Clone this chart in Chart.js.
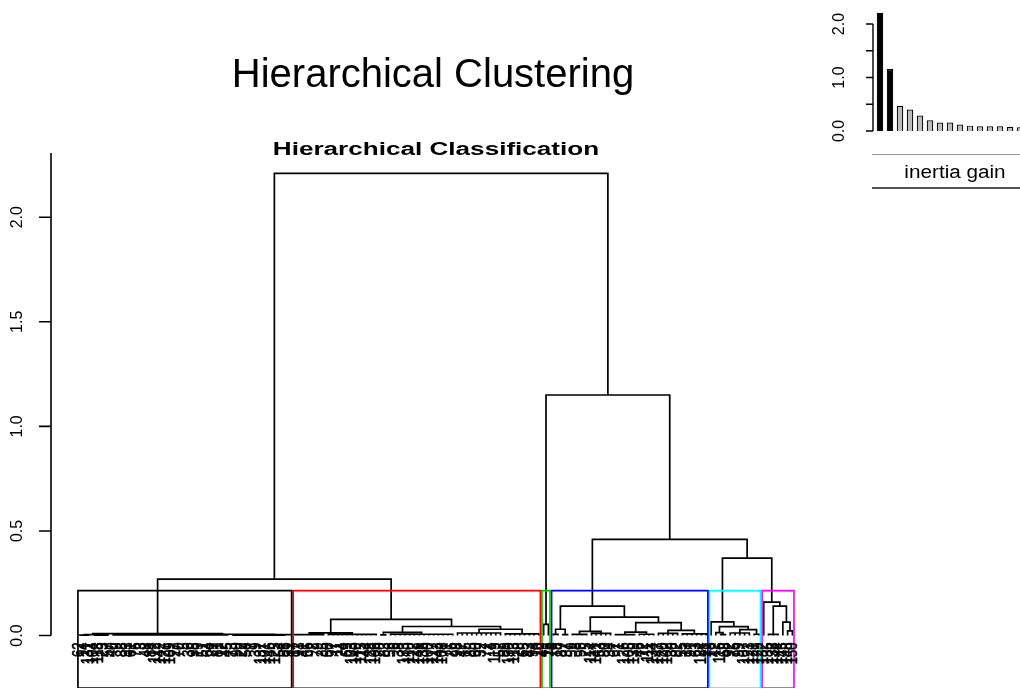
<!DOCTYPE html>
<html>
<head>
<meta charset="utf-8">
<script src="https://cdn.jsdelivr.net/npm/chart.js@4.4.1/dist/chart.umd.min.js"></script>
<style>
  html, body { margin: 0; padding: 0; background: #fff; overflow: hidden; }
  #wrap { position: relative; width: 1020px; height: 689px; overflow: hidden; }
  #main { position: absolute; left: 0; top: 0; }
  #gain { position: absolute; left: 800px; top: 0; }
</style>
</head>
<body>
<div id="wrap">
  <canvas id="main" width="1020" height="689"></canvas>
  <canvas id="gain" width="240" height="200"></canvas>
</div>
<script>
// upper merges of the tree: root, black+red, green+rest, blue+rest, cyan+magenta
const upperHeights = [2.21, 0.27, 1.15, 0.46, 0.37];
// the tree is cut between the 5th and 6th merge
const cutHeight = 0.215;
const clusterColors = ['#000000', '#FF0000', '#00CD00', '#0000FF', '#00FFFF', '#FF00FF'];

// clusters: [height, child, child...], a plain number is a leaf label
const clusterBlack = [0.009,
  [0.004, [0.002, 62, 14, 131], [0.002, 104, 118, 23, 57]],
  [0.006,
    [0.003, 40, 9, 88, 33, 61, 76, 3, 48, 84, 112, 142, 127, 109, 27, 70, 5, 36, 95, 19, 51, 64, 29, 81, 12, 45],
    [0.004, [0.002, 73, 90, 22, 58, 7, 39, 137, 101, 146, 125, 54, 86], 31]]];
const clusterRed = [0.077,
  [0.013, [0.004, 17, 93, 41, 66, 2, 79, 35], [0.005, 50, 97, 11, 24, 69, 103, 140, 115, 44, 128, 106]],
  [0.043,
    [0.015, [0.003, 20, 83], [0.006, 56, 6, 38, 133, 110, 122, 149, 136, 100, 117, 143, 108, 71, 26]],
    [0.03, [0.012, 98, 47, 15, 85, 60, 32, 77, 4, 119, 52], [0.008, 89, 130, 113, 28, 65, 43, 94, 10]]]];
const clusterGreen = [0.053, 49, 16];
const clusterBlue = [0.14,
  [0.03, [0.005, 74, 18], [0.004, 87, 37]],
  [0.088,
    [0.02, [0.005, 59, 8, 96, 25], [0.01, 114, 141, 53, 80, 34]],
    [0.062,
      [0.016, [0.004, 67, 1, 126, 105, 139], [0.006, 46, 72, 111, 134]],
      [0.025, [0.01, 147, 120, 102, 30, 82], [0.008, 55, 13, 91, 63, 124, 21]]]]];
const clusterCyan = [0.065, 78,
  [0.042, [0.014, 42, [0.004, 116, 68]], [0.028, [0.012, 92, 75, 99, 107, 123], [0.006, 121, 129]]]];
const clusterMagenta = [0.16, 132,
  [0.14, [0.005, 135, 138, 144], [0.064, 145, [0.022, 148, 150]]]];

// inertia gain barplot (inset)
const inertiaGain = [2.21, 1.16, 0.47, 0.40, 0.29, 0.20, 0.16, 0.16, 0.12, 0.10, 0.09, 0.09, 0.09, 0.08, 0.07, 0.07];

const yTicks = [0, 0.5, 1.0, 1.5, 2.0];
const yTickLabels = ['0.0', '0.5', '1.0', '1.5', '2.0'];
const gainTicks = [0, 0.5, 1.0, 1.5, 2.0];
const gainTickLabels = ['0.0', '', '1.0', '', '2.0'];

const FONT = "'Liberation Sans', Arial, Helvetica, sans-serif";

// ---- build the tree -------------------------------------------------
const clusters = [clusterBlack, clusterRed, clusterGreen, clusterBlue, clusterCyan, clusterMagenta];
const tree = [upperHeights[0],
  [upperHeights[1], clusterBlack, clusterRed],
  [upperHeights[2], clusterGreen,
    [upperHeights[3], clusterBlue, [upperHeights[4], clusterCyan, clusterMagenta]]]];

const leafLabels = [];
const segments = [];

function placeNode(node) {
  if (typeof node === 'number') {
    leafLabels.push(node);
    return { x: leafLabels.length, h: 0 };
  }
  const h = node[0];
  const kids = node.slice(1).map(placeNode);
  const first = kids[0], last = kids[kids.length - 1];
  segments.push({ x: first.x, y: first.h }, { x: first.x, y: h },
                { x: last.x, y: h }, { x: last.x, y: last.h }, { x: first.x, y: null });
  kids.slice(1, -1).forEach(k => {
    segments.push({ x: k.x, y: k.h }, { x: k.x, y: h }, { x: k.x, y: null });
  });
  return { x: (first.x + last.x) / 2, h: h };
}
placeNode(tree);

function countLeaves(node) {
  if (typeof node === 'number') return 1;
  return node.slice(1).reduce((s, k) => s + countLeaves(k), 0);
}

const yMin = -0.251, yMax = 2.307;
let cum = 0;
const rectSets = clusters.map((c, k) => {
  const n = countLeaves(c);
  const left = cum + 0.66, right = cum + n + 0.33;
  cum += n;
  return {
    data: [{ x: left, y: yMin }, { x: left, y: cutHeight }, { x: right, y: cutHeight },
           { x: right, y: yMin }, { x: left, y: yMin }],
    borderColor: clusterColors[k],
    borderWidth: 1.7,
    pointRadius: 0,
    fill: false,
    tension: 0
  };
});

// ---- decorations drawn the R way ------------------------------------
const mainDecor = {
  id: 'mainDecor',
  afterDraw(chart) {
    const ctx = chart.ctx;
    const xs = chart.scales.x, ys = chart.scales.y;
    ctx.save();
    ctx.fillStyle = '#000';
    ctx.strokeStyle = '#000';

    // titles
    ctx.textAlign = 'center';
    ctx.textBaseline = 'alphabetic';
    ctx.font = '40px ' + FONT;
    ctx.fillText('Hierarchical Clustering', 433, 87);
    ctx.save();
    ctx.translate(436, 155);
    ctx.scale(1.45, 1);
    ctx.font = 'bold 18px ' + FONT;
    ctx.fillText('Hierarchical Classification', 0, 0);
    ctx.restore();

    // y axis
    const ax = 51;
    ctx.lineWidth = 1.6;
    ctx.beginPath();
    ctx.moveTo(ax, ys.getPixelForValue(0));
    ctx.lineTo(ax, ys.getPixelForValue(yMax));
    yTicks.forEach(v => {
      const py = ys.getPixelForValue(v);
      ctx.moveTo(ax, py);
      ctx.lineTo(ax - 12, py);
    });
    ctx.stroke();
    ctx.font = '16px ' + FONT;
    ctx.textBaseline = 'middle';
    yTicks.forEach((v, i) => {
      ctx.save();
      ctx.translate(18, ys.getPixelForValue(v));
      ctx.rotate(-Math.PI / 2);
      ctx.fillText(yTickLabels[i], 0, 0);
      ctx.restore();
    });

    // leaf labels
    ctx.font = '13px ' + FONT;
    ctx.textAlign = 'right';
    ctx.lineWidth = 0.5;
    const ly = ys.getPixelForValue(0) + 7;
    leafLabels.forEach((lab, i) => {
      ctx.save();
      ctx.translate(xs.getPixelForValue(i + 1), ly);
      ctx.rotate(-Math.PI / 2);
      ctx.scale(1, 1.2);
      ctx.fillText(String(lab), 0, 0);
      ctx.strokeText(String(lab), 0, 0);
      ctx.restore();
    });
    ctx.restore();
  }
};

new Chart(document.getElementById('main'), {
  type: 'line',
  data: {
    datasets: rectSets.concat([{
      data: segments,
      borderColor: '#000000',
      borderWidth: 1.7,
      pointRadius: 0,
      spanGaps: false,
      fill: false,
      tension: 0
    }])
  },
  options: {
    responsive: false,
    animation: false,
    events: [],
    layout: { padding: { top: 153, left: 0, right: 152, bottom: 1 } },
    scales: {
      x: { type: 'linear', display: false, min: -4.97, max: 165.8 },
      y: {
        type: 'linear', min: yMin, max: yMax,
        grid: { display: false }, border: { display: false },
        ticks: { display: false },
        afterFit(scale) { scale.width = 51; }
      }
    },
    plugins: { legend: { display: false }, tooltip: { enabled: false } }
  },
  plugins: [mainDecor]
});

// ---- inset: inertia gain ---------------------------------------------
const gainDecor = {
  id: 'gainDecor',
  afterDraw(chart) {
    const ctx = chart.ctx;
    const ys = chart.scales.y;
    ctx.save();
    ctx.strokeStyle = '#000';
    ctx.fillStyle = '#000';
    ctx.lineWidth = 1.4;
    const ax = 73;
    ctx.beginPath();
    ctx.moveTo(ax, ys.getPixelForValue(0));
    ctx.lineTo(ax, ys.getPixelForValue(2));
    gainTicks.forEach(v => {
      const py = ys.getPixelForValue(v);
      ctx.moveTo(ax, py);
      ctx.lineTo(ax - 7, py);
    });
    ctx.stroke();
    ctx.font = '16px ' + FONT;
    ctx.textAlign = 'center';
    ctx.textBaseline = 'middle';
    gainTicks.forEach((v, i) => {
      if (!gainTickLabels[i]) return;
      ctx.save();
      ctx.translate(40, ys.getPixelForValue(v));
      ctx.rotate(-Math.PI / 2);
      ctx.fillText(gainTickLabels[i], 0, 0);
      ctx.restore();
    });
    // label box below the bars
    ctx.strokeStyle = '#9a9a9a';
    ctx.lineWidth = 1;
    ctx.beginPath();
    ctx.moveTo(72, 154.5);
    ctx.lineTo(240, 154.5);
    ctx.stroke();
    ctx.strokeStyle = '#555555';
    ctx.lineWidth = 2;
    ctx.beginPath();
    ctx.moveTo(72, 188);
    ctx.lineTo(240, 188);
    ctx.stroke();
    ctx.textBaseline = 'alphabetic';
    ctx.font = '18px ' + FONT;
    ctx.save();
    ctx.translate(155, 178);
    ctx.scale(1.15, 1);
    ctx.fillText('inertia gain', 0, 0);
    ctx.restore();
    ctx.restore();
  }
};

new Chart(document.getElementById('gain'), {
  type: 'bar',
  data: {
    labels: inertiaGain.map((v, i) => String(i + 1)),
    datasets: [{
      data: inertiaGain,
      backgroundColor: inertiaGain.map((v, i) => i < 2 ? '#000000' : '#BEBEBE'),
      borderColor: '#000000',
      borderWidth: 1.2,
      barPercentage: 0.65,
      categoryPercentage: 1
    }]
  },
  options: {
    responsive: false,
    animation: false,
    events: [],
    layout: { padding: { left: 75, right: 5, top: 8, bottom: 69 } },
    scales: {
      x: { display: false },
      y: { display: false, min: 0, max: 2.3 }
    },
    plugins: { legend: { display: false }, tooltip: { enabled: false } }
  },
  plugins: [gainDecor]
});
</script>
</body>
</html>
